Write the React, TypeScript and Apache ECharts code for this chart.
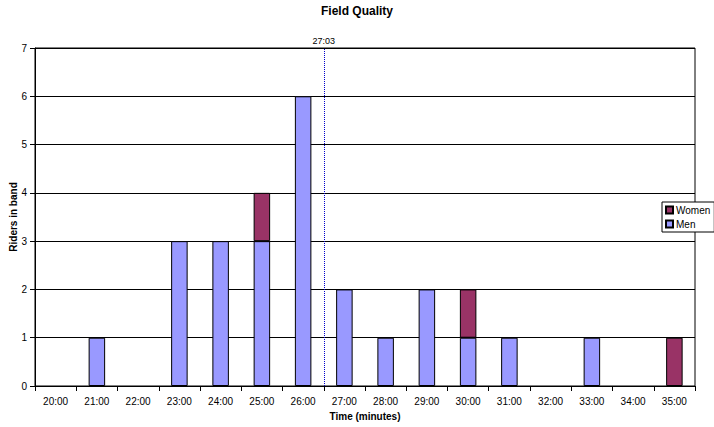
import React, { useEffect, useRef } from "react";
import * as echarts from "echarts";

const categories = ["20:00","21:00","22:00","23:00","24:00","25:00","26:00","27:00","28:00","29:00","30:00","31:00","32:00","33:00","34:00","35:00"];
const men = [0, 1, 0, 3, 3, 3, 6, 2, 1, 2, 1, 1, 0, 1, 0, 0];
const women = [0, 0, 0, 0, 0, 1, 0, 0, 0, 0, 1, 0, 0, 0, 0, 1];
const markerPosition = 7; // band boundary index where the 27:03 line sits
const markerLabel = "27:03";

const hideZero = (arr: number[]) => arr.map((v) => (v === 0 ? "-" : v));

export default function App() {
  const ref = useRef<HTMLDivElement>(null);
  useEffect(() => {
    const chart = echarts.init(ref.current!, null, { renderer: "svg" });
    const font = "Liberation Sans, Arial, sans-serif";
    chart.setOption({
      animation: false,
      backgroundColor: "#fff",
      textStyle: { fontFamily: font, color: "#000" },
      title: {
        text: "Field Quality",
        left: "center",
        top: 0,
        textStyle: { fontSize: 12, fontWeight: "bold", color: "#000", fontFamily: font },
      },
      legend: {
        data: ["Women", "Men"],
        orient: "vertical",
        left: 662,
        top: 202,
        padding: [3, 4, 3, 3],
        itemGap: 4,
        itemWidth: 7,
        itemHeight: 7,
        backgroundColor: "#fff",
        borderColor: "#000",
        borderWidth: 1,
        borderRadius: 0,
        icon: "rect",
        textStyle: { fontSize: 10, color: "#000", fontFamily: font, padding: [0, 0, 0, -2] },
      },
      grid: {
        left: 35,
        right: 19,
        top: 48,
        bottom: 41,
        containLabel: false,
        outerBoundsMode: "none",
        show: true,
        borderColor: "#000",
        borderWidth: 1,
        backgroundColor: "#fff",
      },
      xAxis: [
        {
          type: "category",
          data: categories,
          boundaryGap: true,
          name: "Time (minutes)",
          nameLocation: "middle",
          nameGap: 25,
          nameMoveOverlap: false,
          nameTextStyle: { fontSize: 10, fontWeight: "bold", color: "#000", fontFamily: font },
          axisLine: { lineStyle: { color: "#000", width: 1 } },
          axisTick: { show: true, interval: 0, length: 5, lineStyle: { color: "#000" } },
          axisLabel: { fontSize: 10, color: "#000", margin: 10, interval: 0, fontFamily: font },
          splitLine: { show: false },
        },
        {
          type: "value",
          min: 0,
          max: categories.length,
          show: false,
          position: "bottom",
        },
      ],
      yAxis: {
        type: "value",
        min: 0,
        max: 7,
        interval: 1,
        name: "Riders in band",
        nameLocation: "middle",
        nameGap: 17,
        nameMoveOverlap: false,
        nameTextStyle: { fontSize: 10, fontWeight: "bold", color: "#000", fontFamily: font },
        axisLine: { show: true, lineStyle: { color: "#000" } },
        axisTick: { show: true, length: 5, lineStyle: { color: "#000" } },
        axisLabel: { fontSize: 10, color: "#000", margin: 8, fontFamily: font },
        splitLine: { show: true, lineStyle: { color: "#000", width: 1 } },
      },
      series: [
        {
          name: "Men",
          type: "bar",
          stack: "riders",
          data: hideZero(men),
          barWidth: "40%",
          itemStyle: { color: "#9999FF", borderColor: "#000", borderWidth: 1 },
        },
        {
          name: "Women",
          type: "bar",
          stack: "riders",
          data: hideZero(women),
          barWidth: "40%",
          itemStyle: { color: "#993366", borderColor: "#000", borderWidth: 1 },
        },
        {
          name: "marker",
          type: "scatter",
          xAxisIndex: 1,
          yAxisIndex: 0,
          data: [[markerPosition, 0]],
          symbolSize: 0,
          silent: true,
          markLine: {
            silent: true,
            symbol: ["none", "none"],
            lineStyle: { color: "#0000CC", type: "dotted", width: 1 },
            label: {
              show: true,
              position: "end",
              formatter: markerLabel,
              fontSize: 9,
              color: "#000",
              fontFamily: font,
              distance: 3,
            },
            data: [{ xAxis: markerPosition }],
          },
        },
      ],
    });
    return () => chart.dispose();
  }, []);
  return <div ref={ref} style={{ width: 714, height: 427, position: "absolute", left: 0, top: 0 }} />;
}
